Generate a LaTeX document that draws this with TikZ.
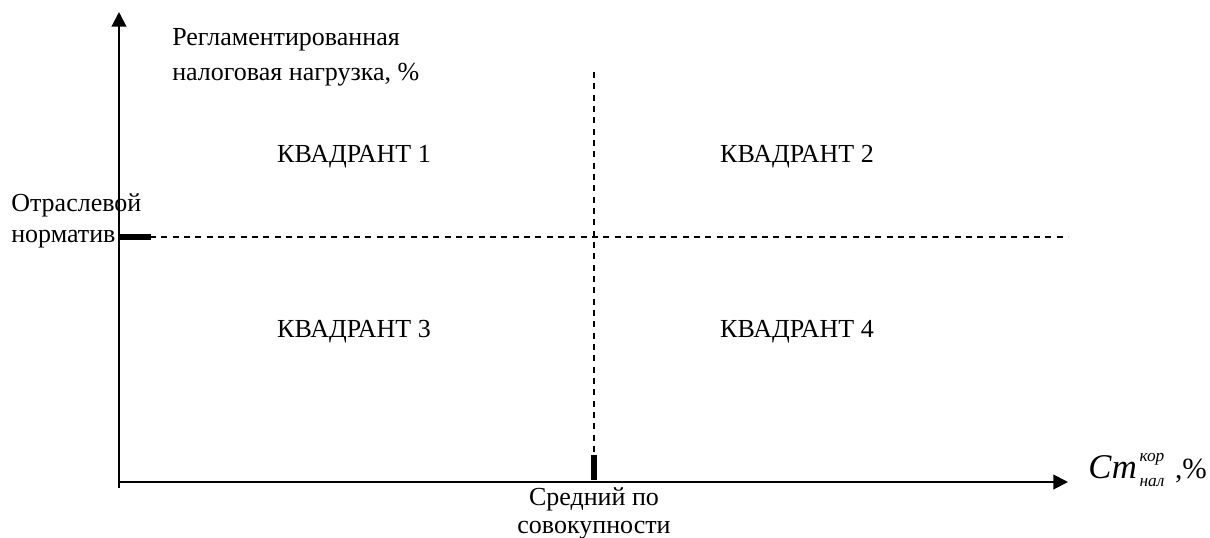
\documentclass[tikz,border=0pt]{standalone}
\usepackage{fontspec}
\setmainfont{Liberation Serif}
\usetikzlibrary{arrows.meta}
\begin{document}
\begin{tikzpicture}[x=0.75pt,y=-0.75pt,
  axis/.style={line width=1.5pt,-{Triangle[length=11pt,width=11pt]}},
  guide/.style={line width=1.1pt,dash pattern=on 4.5pt off 4pt},
  tickmark/.style={line width=5pt},
  lbl/.style={font=\fontsize{19.5}{22}\selectfont, inner sep=0pt},
  quad/.style={lbl}]
\useasboundingbox (0,0) rectangle (1210,537);
% axes
\coordinate (ybot) at (119,488);
\coordinate (ytop) at (119,12);
\coordinate (xstart) at (119,482);
\coordinate (xend) at (1068,482);
\draw[axis] (ybot) -- (ytop);
\draw[axis] (xstart) -- (xend);
% guides
\coordinate (hstart) at (150,237);
\coordinate (hend) at (1068,237);
\draw[guide] (hstart) -- (hend);
\coordinate (vtop) at (594,72);
\coordinate (vbot) at (594,456);
\draw[guide] (vtop) -- (vbot);
% tick marks
\coordinate (ht1) at (119,237);
\coordinate (ht2) at (151,237);
\draw[tickmark] (ht1) -- (ht2);
\coordinate (vt1) at (594,455);
\coordinate (vt2) at (594,480);
\draw[tickmark] (vt1) -- (vt2);
% labels
\node[lbl,anchor=west,align=left] (ylab) at (172,57)
  {Регламентированная\\[4pt]налоговая нагрузка, \%};
\node[quad] (q1) at (354,157) {КВАДРАНТ 1};
\node[quad] (q2) at (797,157) {КВАДРАНТ 2};
\node[quad] (q3) at (354,332) {КВАДРАНТ 3};
\node[quad] (q4) at (797,332) {КВАДРАНТ 4};
\node[lbl,anchor=west,align=left] (norm) at (11,221) {Отраслевой\\[1pt]норматив};
\node[lbl,align=center] (avg) at (594,513) {Средний по\\[-1pt]совокупности};
\node[inner sep=0pt,anchor=west] (xlab) at (1088,470)
  {\fontsize{26}{28}\selectfont\itshape Ст\hspace{2pt}\raisebox{13pt}{\fontsize{13}{14}\selectfont кор}\llap{\raisebox{-6pt}{\fontsize{13}{14}\selectfont нал}}\upshape\hspace{8pt}\fontsize{22}{24}\selectfont,\%};
\end{tikzpicture}
\end{document}
